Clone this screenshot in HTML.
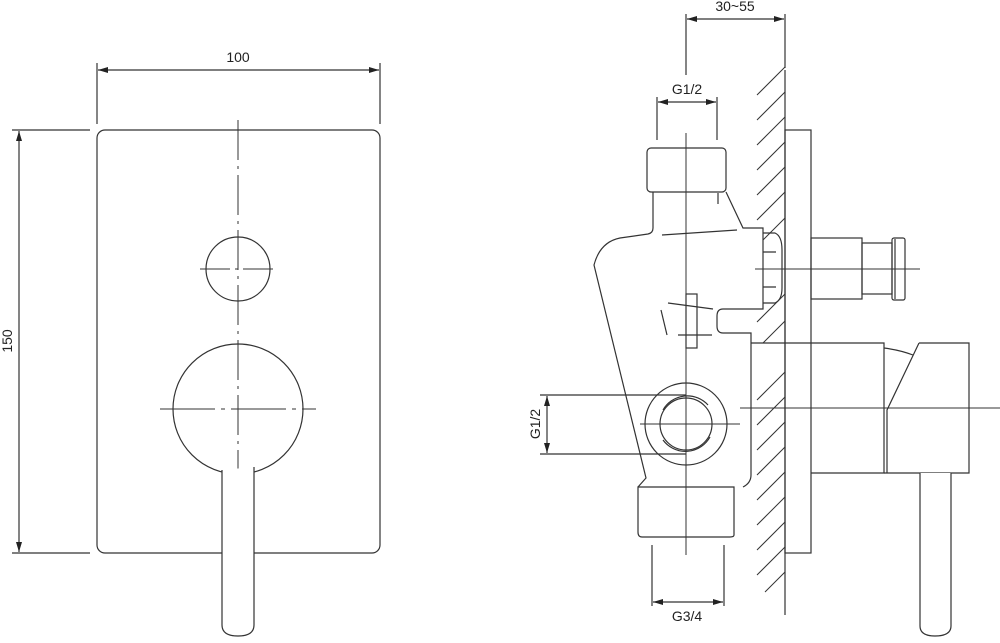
<!DOCTYPE html>
<html><head><meta charset="utf-8"><style>
html,body{margin:0;padding:0;background:#fff;}
svg{display:block;}
text{font-family:"Liberation Sans",sans-serif;font-size:14px;fill:#222;}
</style></head><body>
<svg width="1000" height="643" viewBox="0 0 1000 643" xmlns="http://www.w3.org/2000/svg">
<defs>
<marker id="a" viewBox="0 0 10 6" refX="10" refY="3" markerWidth="10" markerHeight="6" orient="auto-start-reverse" markerUnits="userSpaceOnUse"><path d="M0,0 L10,3 L0,6z" fill="#222"/></marker>
</defs>
<g fill="none" stroke="#333" stroke-width="1.2">
<rect x="97" y="130" width="283" height="423" rx="8"/>
<line x1="97" y1="63" x2="97" y2="124"/>
<line x1="380" y1="63" x2="380" y2="124"/>
<line x1="98" y1="70" x2="379" y2="70" marker-start="url(#a)" marker-end="url(#a)"/>
<line x1="12" y1="130" x2="90" y2="130"/>
<line x1="12" y1="553" x2="90" y2="553"/>
<line x1="19" y1="131" x2="19" y2="552" marker-start="url(#a)" marker-end="url(#a)"/>
<line x1="238" y1="120" x2="238" y2="585" stroke-dasharray="40,6,3,6" stroke-width="1"/>
<circle cx="238" cy="269" r="32"/>
<line x1="200" y1="269" x2="276" y2="269" stroke-dasharray="30,5,3,5" stroke-width="1"/>
<circle cx="238" cy="409" r="65"/>
<line x1="160" y1="409" x2="316" y2="409" stroke-dasharray="55,6,4,6" stroke-width="1"/>
<path d="M222,470 V625 Q222,636 238,636 Q254,636 254,625 V467" fill="#fff"/>

<line x1="686" y1="14" x2="686" y2="75"/>
<line x1="785" y1="14" x2="785" y2="68"/>
<line x1="687" y1="19" x2="784" y2="19" marker-start="url(#a)" marker-end="url(#a)"/>
<line x1="657" y1="97" x2="657" y2="140"/>
<line x1="717" y1="97" x2="717" y2="140"/>
<line x1="658" y1="102" x2="716" y2="102" marker-start="url(#a)" marker-end="url(#a)"/>
<line x1="540" y1="395" x2="686" y2="395"/>
<line x1="540" y1="454" x2="686" y2="454"/>
<line x1="547" y1="396" x2="547" y2="453" marker-start="url(#a)" marker-end="url(#a)"/>
<line x1="652" y1="545" x2="652" y2="606"/>
<line x1="724" y1="545" x2="724" y2="606"/>
<line x1="653" y1="602" x2="723" y2="602" marker-start="url(#a)" marker-end="url(#a)"/>

<line x1="785" y1="70" x2="785" y2="615"/>
<g stroke-width="1">
<line x1="757" y1="95" x2="785" y2="67"/>
<line x1="757" y1="120" x2="785" y2="92"/>
<line x1="757" y1="145" x2="785" y2="117"/>
<line x1="757" y1="170" x2="785" y2="142"/>
<line x1="757" y1="195" x2="785" y2="167"/>
<line x1="757" y1="220" x2="785" y2="192"/>
<line x1="763" y1="240" x2="785" y2="218"/>
<line x1="757" y1="322" x2="785" y2="294"/>
<line x1="763" y1="343" x2="785" y2="321"/>
<line x1="757" y1="400" x2="785" y2="372"/>
<line x1="757" y1="425" x2="785" y2="397"/>
<line x1="757" y1="450" x2="785" y2="422"/>
<line x1="757" y1="475" x2="785" y2="447"/>
<line x1="757" y1="500" x2="785" y2="472"/>
<line x1="757" y1="525" x2="785" y2="497"/>
<line x1="757" y1="550" x2="785" y2="522"/>
<line x1="757" y1="575" x2="785" y2="547"/>
<line x1="765" y1="592" x2="785" y2="572"/>
</g>
<rect x="785" y="130" width="26" height="423"/>
<rect x="647" y="148" width="79" height="44" rx="4"/>
<path d="M653,192 V228 Q653,233 648,234 L620,238 Q600,242 594,265 L646,478 L638,487"/>
<path d="M726,192 L743,228 H763 V309 H723 Q717,309 717,316 V326 Q717,333 723,333 H751 V475 Q751,483 743,487"/>
<line x1="662" y1="235" x2="737" y2="230"/>
<line x1="718" y1="193" x2="718" y2="204"/>
<path d="M638,487 H734 V535 Q734,537 730,537 H642 Q638,537 638,532 Z"/>
<path d="M763,233 H775 Q782,236 782,250 V288 Q782,300 775,303 H763"/>
<path d="M763,252 H776 M763,287 H776"/>
<rect x="686" y="294" width="11" height="54"/>
<line x1="668" y1="303" x2="713" y2="309"/>
<line x1="678" y1="335" x2="712" y2="335"/>
<line x1="661" y1="310" x2="667" y2="335"/>
<circle cx="686" cy="424" r="41"/>
<circle cx="686" cy="424" r="26"/>
<path d="M663,410 A28,28 0 0,1 708,405 M710,437 A28,28 0 0,1 663,440"/>
<line x1="686" y1="133" x2="686" y2="555" stroke-width="1"/>
<line x1="640" y1="424" x2="740" y2="424" stroke-width="1"/>
<line x1="755" y1="269" x2="920" y2="269" stroke-width="1"/>
<line x1="740" y1="408" x2="1000" y2="408" stroke-width="1"/>
<rect x="811" y="238" width="51" height="61"/>
<rect x="862" y="243" width="30" height="51"/>
<rect x="892" y="238" width="13" height="62" rx="2"/>
<line x1="895" y1="239" x2="895" y2="299"/>
<path d="M751,343 H884 V473 H811"/>
<path d="M884,348 Q900,350 913,355"/>
<path d="M919,343 H969 V473 H884 M919,343 L887,410 V473"/>
<path d="M920,473 V626 Q920,636 935,636 Q951,636 951,626 V473" fill="#fff"/>
</g>
<text x="238" y="62" text-anchor="middle">100</text>
<text transform="translate(12,341) rotate(-90)" text-anchor="middle">150</text>
<text x="735" y="11" text-anchor="middle">30~55</text>
<text x="687" y="94" text-anchor="middle">G1/2</text>
<text transform="translate(540,424) rotate(-90)" text-anchor="middle">G1/2</text>
<text x="687" y="621" text-anchor="middle">G3/4</text>
</svg>
</body></html>
